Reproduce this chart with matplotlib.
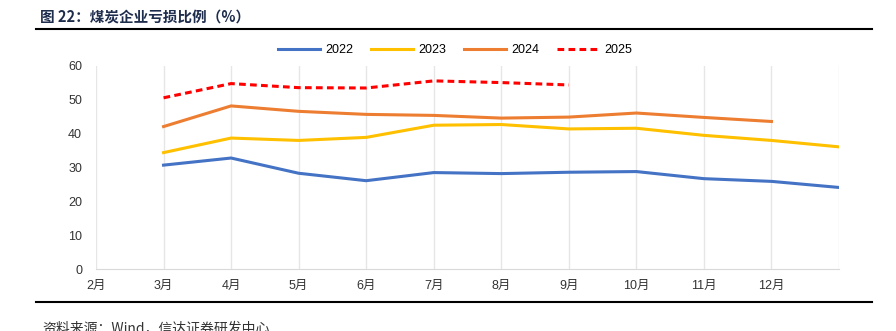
import matplotlib.pyplot as plt

plt.rcParams['font.family'] = ['Liberation Sans', 'Noto Sans CJK SC']

# --- DATA ---
months = ['2月', '3月', '4月', '5月', '6月', '7月', '8月', '9月', '10月', '11月', '12月', '']
v2022 = [None, 30.7, 32.8, 28.3, 26.1, 28.5, 28.2, 28.6, 28.8, 26.7, 25.9, 24.1]
v2023 = [None, 34.4, 38.7, 38.0, 38.9, 42.5, 42.7, 41.4, 41.6, 39.5, 38.0, 36.1]
v2024 = [None, 42.1, 48.2, 46.6, 45.7, 45.4, 44.6, 44.9, 46.1, 44.8, 43.6, None]
v2025 = [None, 50.6, 54.8, 53.6, 53.5, 55.6, 55.1, 54.4, None, None, None, None]

x = list(range(len(months)))
series = [('2022', v2022, '#4472C4', '-'),
          ('2023', v2023, '#FFC000', '-'),
          ('2024', v2024, '#ED7D31', '-'),
          ('2025', v2025, '#FF0000', (0, (2.2, 1.4)))]

fig = plt.figure(figsize=(8.96, 3.31), dpi=100)
ax = fig.add_axes([96 / 896, 1 - 269 / 331, (839 - 96) / 896, (269 - 66) / 331])

for name, vals, color, ls in series:
    xs = [xi for xi, v in zip(x, vals) if v is not None]
    ys = [v for v in vals if v is not None]
    ax.plot(xs, ys, color=color, lw=2.2, ls=ls, label=name)

ax.set_xlim(0, len(months) - 1)
ax.set_ylim(0, 60)
ax.set_xticks(x)
ax.set_xticklabels(months)
ax.set_yticks(range(0, 61, 10))
ax.tick_params(axis='both', length=0, labelsize=9, colors='#333333')
ax.tick_params(axis='x', pad=8)
ax.tick_params(axis='y', pad=10)
ax.grid(axis='x', color='#e6e6e6', lw=1)
for s in ['top', 'right', 'left']:
    ax.spines[s].set_visible(False)
ax.spines['bottom'].set_color('#d9d9d9')

fig.legend(loc='center', bbox_to_anchor=(455 / 896, 1 - 50 / 331), ncol=4,
           frameon=False, fontsize=9, handlelength=3.4, columnspacing=1.4,
           handletextpad=0.4)

# title and frame lines
fig.text(40 / 896, 1 - 17 / 331, '图 22：煤炭企业亏损比例（%）', fontsize=10.5,
         fontweight='bold', color='#1f2d4d', va='center', ha='left',
         family=['Noto Sans CJK SC'])
fig.add_artist(plt.Line2D([36 / 896, 872 / 896], [1 - 29 / 331] * 2, color='black', lw=1.5))
fig.add_artist(plt.Line2D([36 / 896, 872 / 896], [1 - 302 / 331] * 2, color='black', lw=1.5))
fig.text(42 / 896, 1 - 321 / 331, '资料来源：Wind，信达证券研发中心', fontsize=10,
         color='#333333', va='top', ha='left', family=['Noto Sans CJK SC'])

plt.savefig('out.png', dpi=100)
